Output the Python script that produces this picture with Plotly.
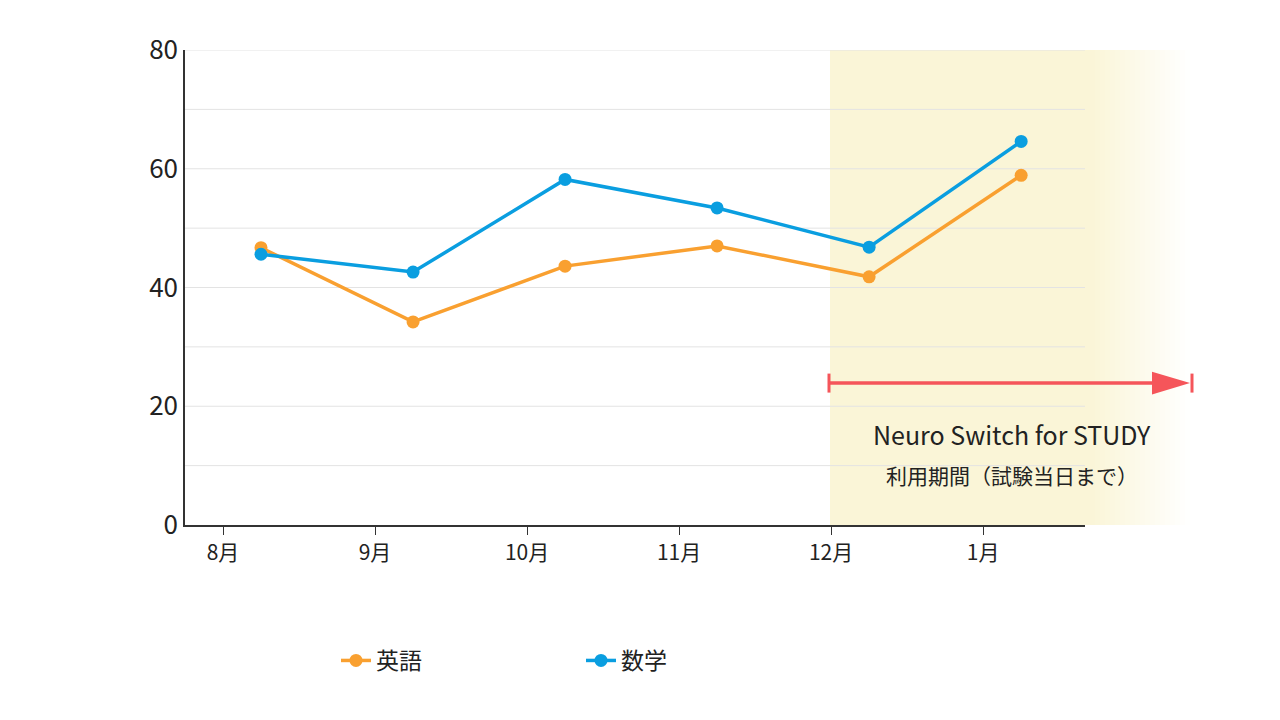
import plotly.graph_objects as go

months = ["8月", "9月", "10月", "11月", "12月", "1月"]
english = [46.7, 34.2, 43.6, 47.0, 41.8, 58.9]
math = [45.6, 42.6, 58.2, 53.4, 46.8, 64.6]
series_names = ["英語", "数学"]

tick_pos = list(range(len(months)))
pt_pos = [i + 0.25 for i in tick_pos]

L, W = 185, 900
def px(x):  # page pixel -> paper
    return (x - L) / W

fig = go.Figure()
fig.add_trace(go.Scatter(x=pt_pos, y=english, name=series_names[0], mode="lines+markers",
                         line=dict(color="#F9A030", width=3.5), marker=dict(size=13, color="#F9A030")))
fig.add_trace(go.Scatter(x=pt_pos, y=math, name=series_names[1], mode="lines+markers",
                         line=dict(color="#0A9EE0", width=3.5), marker=dict(size=13, color="#0A9EE0")))

shapes = []
shapes.append(dict(type="rect", xref="paper", yref="paper", x0=px(830), x1=px(1090), y0=0, y1=1,
                   fillcolor="#FAF5D7", line_width=0, layer="below"))
n = 20
for i in range(n):
    a = 1 - (i + 0.5) / n
    shapes.append(dict(type="rect", xref="paper", yref="paper", x0=px(1090 + i * 5), x1=px(1090 + (i + 1) * 5),
                       y0=0, y1=1, fillcolor="#FAF5D7", opacity=a, line_width=0, layer="below"))
red = "#F5555A"
ya = 23.9
shapes.append(dict(type="line", xref="paper", yref="y", x0=px(829), x1=px(1160), y0=ya, y1=ya,
                   line=dict(color=red, width=3.5)))
shapes.append(dict(type="line", xref="paper", yref="y", x0=px(829), x1=px(829), y0=ya - 1.6, y1=ya + 1.6,
                   line=dict(color=red, width=3)))
shapes.append(dict(type="line", xref="paper", yref="y", x0=px(1192), x1=px(1192), y0=ya - 1.6, y1=ya + 1.6,
                   line=dict(color=red, width=3)))
shapes.append(dict(type="path", xref="paper", yref="y",
                   path=f"M {px(1152)} {ya+1.9} L {px(1190)} {ya} L {px(1152)} {ya-1.9} Z",
                   fillcolor=red, line_width=0))

fig.update_layout(
    width=1280, height=720, margin=dict(l=177, r=203, t=42, b=203),
    plot_bgcolor="white", paper_bgcolor="white",
    font=dict(family="Noto Sans CJK JP", color="#222"),
    shapes=shapes,
    xaxis=dict(range=[-0.25, 5.67], tickvals=tick_pos, ticktext=months, showgrid=False,
               showline=True, linecolor="#333", linewidth=1.5, ticks="outside", ticklen=8,
               tickcolor="#333", tickfont=dict(size=21), zeroline=False),
    yaxis=dict(range=[0, 80], tickvals=[0, 20, 40, 60, 80], showline=True, linecolor="#333",
               linewidth=1.5, tickfont=dict(size=26), zeroline=False, showgrid=False),
    legend=dict(orientation="h", x=0.44, xanchor="center", y=-0.24, yanchor="top",
                font=dict(size=23), entrywidth=200),
    annotations=[
        dict(xref="paper", yref="y", x=px(1012), y=15.3, xanchor="center", text="Neuro Switch for STUDY",
             showarrow=False, font=dict(size=25, color="#222")),
        dict(xref="paper", yref="y", x=px(1012), y=8.4, xanchor="center", text="利用期間（試験当日まで）",
             showarrow=False, font=dict(size=21, color="#222")),
    ],
)
for g in range(10, 90, 10):
    fig.add_shape(type="line", xref="paper", yref="y", x0=0, x1=1, y0=g, y1=g,
                  line=dict(color="#E3E3E3", width=1), layer="below")

fig.write_html("out.html")
